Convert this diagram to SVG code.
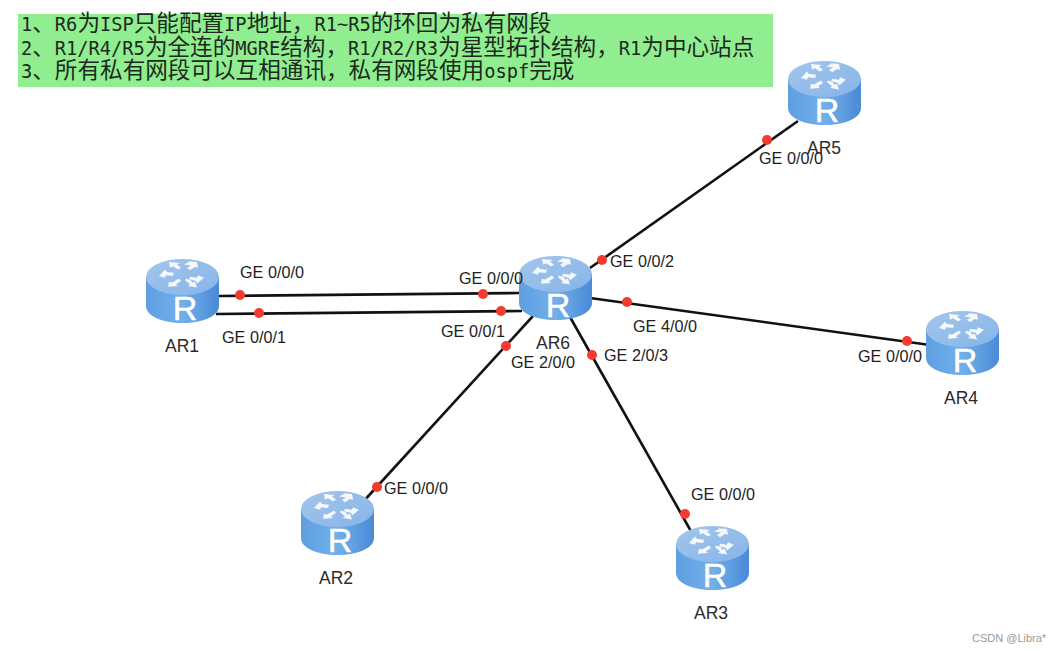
<svg xmlns="http://www.w3.org/2000/svg" width="1062" height="651" viewBox="0 0 1062 651">
<style>
.l{font-family:"Liberation Sans",Arial,sans-serif;font-size:16.200px;fill:#1e1e1e}
.n{font-family:"Liberation Sans",Arial,sans-serif;font-size:17.500px;fill:#2c2c2c}
.t{font-family:"Noto Sans CJK SC",sans-serif;font-size:22.600px;fill:#1c2a1c}
.t tspan{font-family:"DejaVu Sans Mono",monospace;font-size:18.700px}
.c{stroke:#111;stroke-width:2.6;fill:none}
.d{fill:#f53b30}
.a{fill:#fff;opacity:.9}
</style>
<defs>
<linearGradient id="body" x1="0" x2="1" y1="0" y2="0"><stop offset="0" stop-color="#5e9fe2"/><stop offset=".5" stop-color="#72b0ea"/><stop offset="1" stop-color="#4a8ad6"/></linearGradient>
<linearGradient id="top" x1="0" x2="1" y1="0" y2="1"><stop offset="0" stop-color="#a3c6ec"/><stop offset="1" stop-color="#86b4e8"/></linearGradient>
<symbol id="router" width="73" height="64" viewBox="0 0 73 64" overflow="visible">
<path d="M0 18V47C0 57 16 64 36.500 64S73 57 73 47V18Z" fill="url(#body)"/>
<ellipse cx="36.500" cy="18" rx="36.500" ry="18" fill="url(#top)"/>
<g class="a" transform="translate(0 -1) scale(1 .82)">
<path d="M23 5l11 1-3 2 4 4-3 2-5-4-3 2z"/><path d="M38 8l5-3-1-1 9 1 1 7-3-1-5 4-3-3 4-3z"/>
<path d="M13 22l6-8 2 3 7 1-1 4-7-1-1 3z"/><path d="M58 24l-7 7-1-3-7-2 1-3 7 1 1-3z"/>
<path d="M33 25l2 3-5 4 2 2-10 1 1-6 3 1z"/><path d="M40 25l5 2 1 3 3-1 2 7-9-2 2-2-5-5z"/>
</g>
<text x="39" y="61" text-anchor="middle" font-family="Liberation Sans,Arial,sans-serif" font-size="34" fill="#fff" stroke="#fff" stroke-width=".5">R</text>
</symbol>
</defs>
<rect width="1062" height="651" fill="#fff"/>
<g id="note">
<rect x="18" y="14" width="755" height="73" fill="#90ee90"/>
<text class="t" x="21" y="31"><tspan>1</tspan>、<tspan>R6</tspan>为<tspan>ISP</tspan>只能配置<tspan>IP</tspan>地址，<tspan>R1~R5</tspan>的环回为私有网段</text>
<text class="t" x="21" y="55"><tspan>2</tspan>、<tspan>R1/R4/R5</tspan>为全连的<tspan>MGRE</tspan>结构，<tspan>R1/R2/R3</tspan>为星型拓扑结构，<tspan>R1</tspan>为中心站点</text>
<text class="t" x="21" y="78"><tspan>3</tspan>、所有私有网段可以互相通讯，私有网段使用<tspan>ospf</tspan>完成</text>
</g>
<g id="connectors">
<line class="c" x1="219" y1="296" x2="519" y2="293"/>
<line class="c" x1="216" y1="314" x2="522" y2="311"/>
<line class="c" x1="590" y1="268" x2="798" y2="121"/>
<line class="c" x1="590" y1="298" x2="930" y2="345"/>
<line class="c" x1="533" y1="316" x2="362" y2="503"/>
<line class="c" x1="570" y1="317" x2="692" y2="533"/>
</g>
<g id="endpoints">
<circle class="d" cx="240" cy="295" r="5"/><circle class="d" cx="259" cy="313" r="5"/>
<circle class="d" cx="483" cy="294" r="5"/><circle class="d" cx="501" cy="311" r="5"/>
<circle class="d" cx="602" cy="260" r="5"/><circle class="d" cx="767" cy="140" r="5"/>
<circle class="d" cx="627" cy="302" r="5"/><circle class="d" cx="907" cy="341" r="5"/>
<circle class="d" cx="506" cy="346" r="5"/><circle class="d" cx="377" cy="487" r="5"/>
<circle class="d" cx="592" cy="355" r="5"/><circle class="d" cx="685" cy="514" r="5"/>
</g>
<g id="AR1"><use href="#router" x="146" y="259"/><text class="n" x="182" y="352" text-anchor="middle">AR1</text></g>
<g id="AR2"><use href="#router" x="301" y="491"/><text class="n" x="336" y="584" text-anchor="middle">AR2</text></g>
<g id="AR3"><use href="#router" x="676" y="526"/><text class="n" x="711" y="619" text-anchor="middle">AR3</text></g>
<g id="AR4"><use href="#router" x="926" y="311"/><text class="n" x="961" y="404" text-anchor="middle">AR4</text></g>
<g id="AR5"><use href="#router" x="788" y="61"/><text class="n" x="824" y="154" text-anchor="middle">AR5</text></g>
<g id="AR6"><use href="#router" x="519" y="256"/><text class="n" x="553" y="349" text-anchor="middle">AR6</text></g>
<g id="labels">
<text class="l" x="240" y="278">GE 0/0/0</text>
<text class="l" x="222" y="343">GE 0/0/1</text>
<text class="l" x="459" y="284">GE 0/0/0</text>
<text class="l" x="441" y="337">GE 0/0/1</text>
<text class="l" x="511" y="368">GE 2/0/0</text>
<text class="l" x="604" y="361">GE 2/0/3</text>
<text class="l" x="610" y="267">GE 0/0/2</text>
<text class="l" x="633" y="332">GE 4/0/0</text>
<text class="l" x="759" y="164">GE 0/0/0</text>
<text class="l" x="858" y="362">GE 0/0/0</text>
<text class="l" x="384" y="494">GE 0/0/0</text>
<text class="l" x="691" y="500">GE 0/0/0</text>
</g>
<text x="972" y="642" font-family="Liberation Sans,Arial,sans-serif" font-size="11" fill="#999">CSDN @Libra*</text>
</svg>
